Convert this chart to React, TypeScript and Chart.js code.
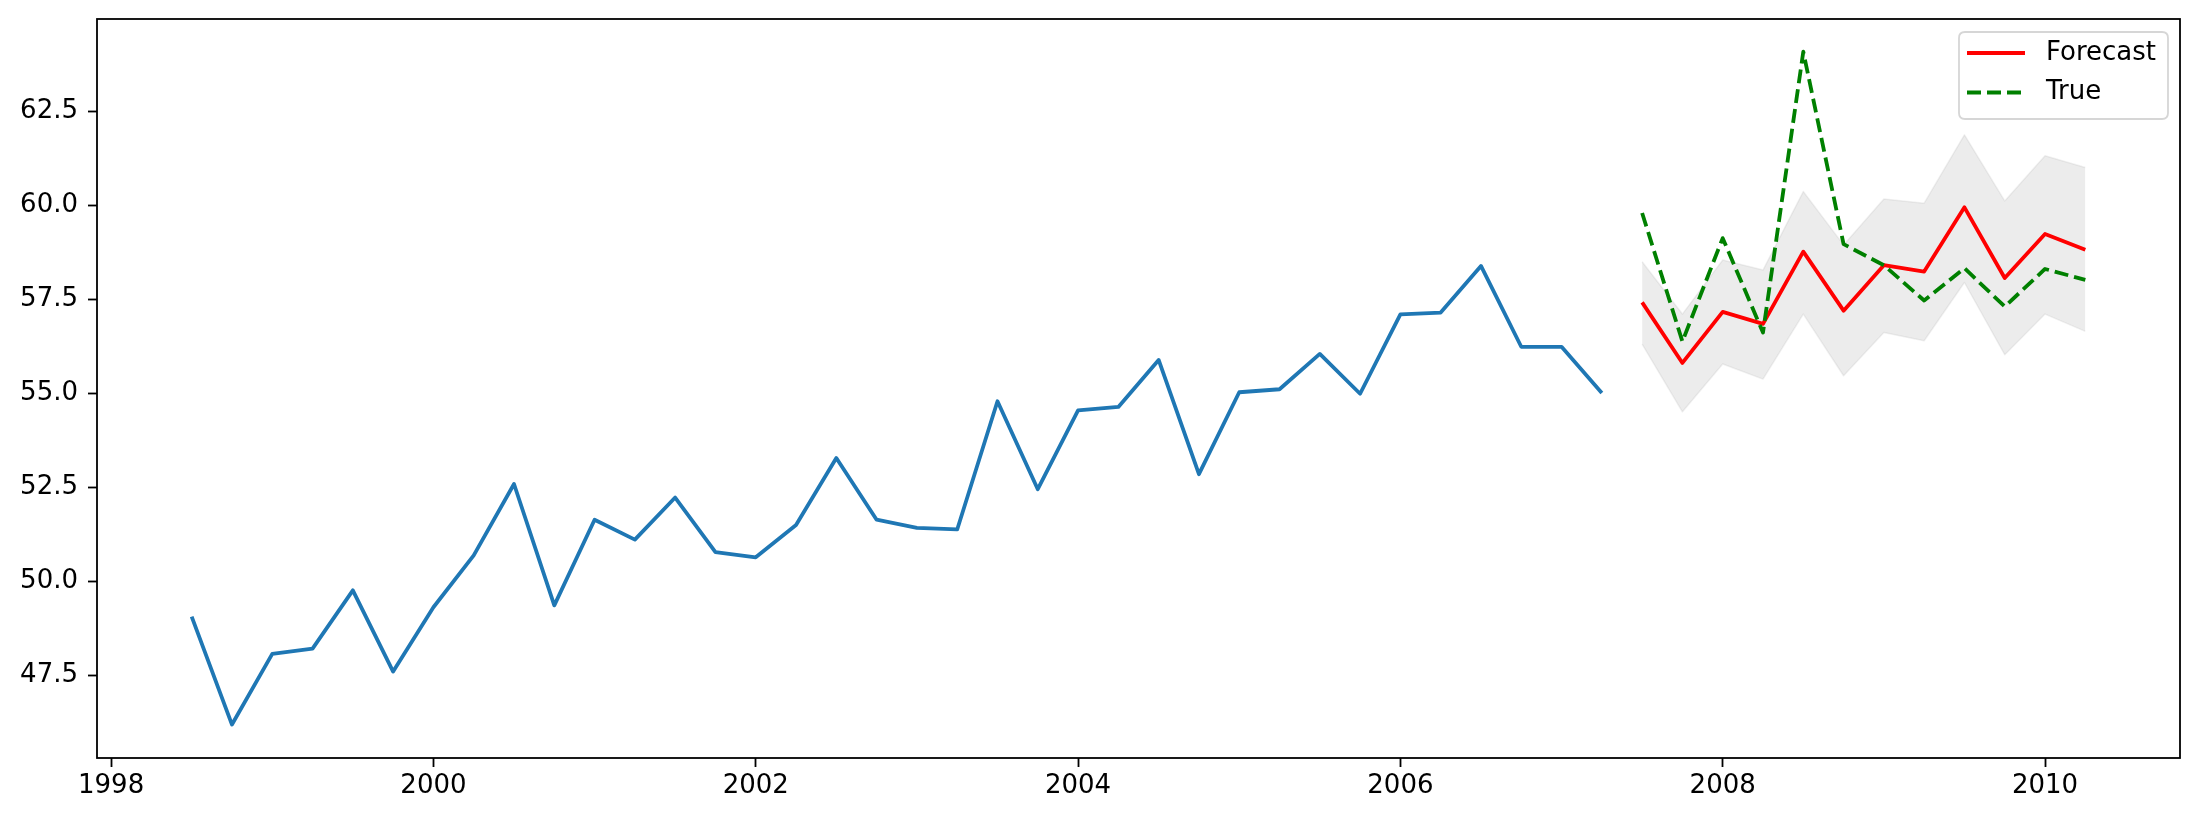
import React, { useEffect, useRef } from "react";
import { Chart, registerables } from "chart.js";

Chart.register(...registerables);

const histYears = [
  1998.5, 1998.75, 1999.0, 1999.25, 1999.5, 1999.75, 2000.0, 2000.25, 2000.5, 2000.75,
  2001.0, 2001.25, 2001.5, 2001.75, 2002.0, 2002.25, 2002.5, 2002.75, 2003.0, 2003.25,
  2003.5, 2003.75, 2004.0, 2004.25, 2004.5, 2004.75, 2005.0, 2005.25, 2005.5, 2005.75,
  2006.0, 2006.25, 2006.5, 2006.75, 2007.0, 2007.25,
];
const histValues = [
  49.06, 46.19, 48.07, 48.21, 49.76, 47.6, 49.31, 50.69, 52.59, 49.36,
  51.64, 51.11, 52.23, 50.78, 50.64, 51.5, 53.28, 51.64, 51.42, 51.38,
  54.79, 52.45, 54.55, 54.64, 55.89, 52.85, 55.03, 55.11, 56.05, 54.99,
  57.1, 57.15, 58.39, 56.24, 56.24, 55.01,
];
const fcYears = [
  2007.5, 2007.75, 2008.0, 2008.25, 2008.5, 2008.75, 2009.0, 2009.25, 2009.5, 2009.75, 2010.0, 2010.25,
];
const forecastValues = [57.42, 55.81, 57.17, 56.85, 58.77, 57.2, 58.41, 58.24, 59.95, 58.07, 59.24, 58.82];
const trueValues = [59.8, 56.38, 59.13, 56.62, 64.09, 58.97, 58.41, 57.47, 58.33, 57.31, 58.31, 58.02];
const upperValues = [58.5, 57.11, 58.55, 58.28, 60.37, 58.95, 60.17, 60.06, 61.88, 60.12, 61.32, 61.01];
const lowerValues = [56.31, 54.51, 55.78, 55.38, 57.11, 55.47, 56.62, 56.4, 57.95, 56.03, 57.11, 56.65];

const xTicks = [1998, 2000, 2002, 2004, 2006, 2008, 2010];
const yTicks = [47.5, 50.0, 52.5, 55.0, 57.5, 60.0, 62.5];
const legendLabels = ["Forecast", "True"];

const FONT = "'DejaVu Sans', sans-serif";

const pts = (xs: number[], ys: number[]) => xs.map((x, i) => ({ x, y: ys[i] }));

const framePlugin = {
  id: "frameAndLegend",
  afterDatasetsDraw(chart: any) {
    const { ctx, chartArea } = chart;
    ctx.save();
    ctx.strokeStyle = "#000";
    ctx.lineWidth = 1.8;
    ctx.strokeRect(chartArea.left, chartArea.top, chartArea.right - chartArea.left, chartArea.bottom - chartArea.top);

    // legend (matplotlib style, upper right)
    const bw = 209;
    const bh = 87;
    const bx = chartArea.right - 12 - bw;
    const by = chartArea.top + 13;
    const r = 6;
    ctx.beginPath();
    ctx.moveTo(bx + r, by);
    ctx.lineTo(bx + bw - r, by);
    ctx.quadraticCurveTo(bx + bw, by, bx + bw, by + r);
    ctx.lineTo(bx + bw, by + bh - r);
    ctx.quadraticCurveTo(bx + bw, by + bh, bx + bw - r, by + bh);
    ctx.lineTo(bx + r, by + bh);
    ctx.quadraticCurveTo(bx, by + bh, bx, by + bh - r);
    ctx.lineTo(bx, by + r);
    ctx.quadraticCurveTo(bx, by, bx + r, by);
    ctx.closePath();
    ctx.fillStyle = "rgba(255,255,255,0.8)";
    ctx.fill();
    ctx.strokeStyle = "#d6d6d6";
    ctx.lineWidth = 1.8;
    ctx.stroke();

    const entries = [
      { label: legendLabels[0], color: "#ff0000", dash: [] as number[] },
      { label: legendLabels[1], color: "#008000", dash: [14, 6] },
    ];
    entries.forEach((e, i) => {
      const cy = by + 21 + i * 39.5;
      ctx.beginPath();
      ctx.setLineDash(e.dash);
      ctx.strokeStyle = e.color;
      ctx.lineWidth = 3.8;
      ctx.moveTo(bx + 8, cy);
      ctx.lineTo(bx + 66, cy);
      ctx.stroke();
      ctx.setLineDash([]);
      ctx.fillStyle = "#000";
      ctx.font = `26px ${FONT}`;
      ctx.textBaseline = "middle";
      ctx.textAlign = "left";
      ctx.fillText(e.label, bx + 87, cy);
    });
    ctx.restore();
  },
};

export default function App() {
  const canvasRef = useRef<HTMLCanvasElement | null>(null);

  useEffect(() => {
    document.body.style.margin = "0";
    const canvas = canvasRef.current;
    if (!canvas) return;
    const chart = new Chart(canvas, {
      type: "line",
      data: {
        datasets: [
          {
            label: "lower",
            data: pts(fcYears, lowerValues),
            borderColor: "rgba(128,128,128,0.12)",
            borderWidth: 1.5,
            pointRadius: 0,
            fill: false,
            order: 10,
          },
          {
            label: "upper",
            data: pts(fcYears, upperValues),
            borderColor: "rgba(128,128,128,0.12)",
            backgroundColor: "rgba(128,128,128,0.15)",
            borderWidth: 1.5,
            pointRadius: 0,
            fill: "-1",
            order: 9,
          },
          {
            label: "History",
            data: pts(histYears, histValues),
            borderColor: "#1f77b4",
            borderWidth: 3.8,
            pointRadius: 0,
            fill: false,
            order: 3,
          },
          {
            label: "Forecast",
            data: pts(fcYears, forecastValues),
            borderColor: "#ff0000",
            borderWidth: 3.8,
            pointRadius: 0,
            fill: false,
            order: 2,
          },
          {
            label: "True",
            data: pts(fcYears, trueValues),
            borderColor: "#008000",
            borderWidth: 3.8,
            borderDash: [14, 6],
            pointRadius: 0,
            fill: false,
            order: 1,
          },
        ],
      },
      options: {
        animation: false,
        responsive: false,
        maintainAspectRatio: false,
        devicePixelRatio: 1,
        layout: { padding: { left: 0, top: 19, right: 19, bottom: 0 } },
        plugins: {
          legend: { display: false },
          tooltip: { enabled: false },
        },
        elements: { line: { tension: 0, borderJoinStyle: "round", borderCapStyle: "butt" } },
        scales: {
          x: {
            type: "linear",
            min: 1997.9125,
            max: 2010.8375,
            afterBuildTicks: (scale: any) => {
              scale.ticks = xTicks.map((v) => ({ value: v }));
            },
            afterFit: (scale: any) => {
              scale.height = 64;
              scale.paddingLeft = 0;
              scale.paddingRight = 0;
            },
            grid: {
              drawOnChartArea: false,
              drawTicks: true,
              tickLength: 9,
              tickWidth: 1.8,
              tickColor: "#000",
            },
            border: { display: false },
            ticks: {
              color: "#000",
              font: { family: FONT, size: 26 },
              padding: 4,
              maxRotation: 0,
              autoSkip: false,
              callback: (v: any) => String(v),
            },
          },
          y: {
            type: "linear",
            min: 45.3,
            max: 64.96,
            afterBuildTicks: (scale: any) => {
              scale.ticks = yTicks.map((v) => ({ value: v }));
            },
            afterFit: (scale: any) => {
              scale.width = 97;
              scale.paddingTop = 0;
              scale.paddingBottom = 0;
            },
            grid: {
              drawOnChartArea: false,
              drawTicks: true,
              tickLength: 9,
              tickWidth: 1.8,
              tickColor: "#000",
            },
            border: { display: false },
            ticks: {
              color: "#000",
              font: { family: FONT, size: 26 },
              padding: 10,
              autoSkip: false,
              callback: (v: any) => Number(v).toFixed(1),
            },
          },
        },
      },
      plugins: [framePlugin],
    } as any);
    return () => chart.destroy();
  }, []);

  return (
    <div style={{ position: "absolute", left: 0, top: 0, width: 2199, height: 822, background: "#fff" }}>
      <canvas ref={canvasRef} width={2199} height={822} style={{ width: 2199, height: 822, display: "block" }} />
    </div>
  );
}
